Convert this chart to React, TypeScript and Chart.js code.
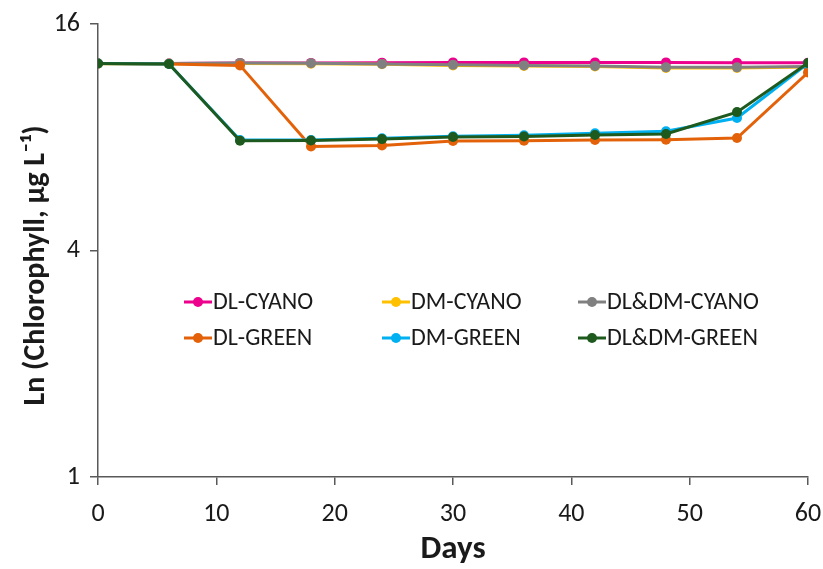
import React, { useEffect, useRef } from "react";
import { Chart, registerables } from "chart.js";

Chart.register(...registerables);

const days = [0, 6, 12, 18, 24, 30, 36, 42, 48, 54, 60];
const yTicks = [1, 4, 16];
const xTickStep = 10;

const dlCyano = [12.57, 12.57, 12.61, 12.61, 12.63, 12.65, 12.65, 12.65, 12.65, 12.63, 12.63];
const dmCyano = [12.55, 12.55, 12.57, 12.55, 12.5, 12.42, 12.38, 12.34, 12.23, 12.23, 12.3];
const dldmCyano = [12.57, 12.57, 12.61, 12.59, 12.53, 12.46, 12.42, 12.38, 12.27, 12.27, 12.34];
const dlGreen = [12.57, 12.53, 12.42, 7.56, 7.61, 7.82, 7.83, 7.87, 7.88, 7.96, 11.89];
const dmGreen = [12.57, 12.53, 7.87, 7.87, 7.95, 8.05, 8.1, 8.2, 8.3, 9.0, 12.57];
const dldmGreen = [12.57, 12.53, 7.83, 7.84, 7.91, 8.01, 8.04, 8.11, 8.16, 9.33, 12.6];

const seriesNames = ["DL-CYANO", "DM-CYANO", "DL&DM-CYANO", "DL-GREEN", "DM-GREEN", "DL&DM-GREEN"];
const seriesColors = ["#EC008C", "#FFC000", "#808080", "#E36209", "#00B0F0", "#1E5A1E"];
const seriesValues = [dlCyano, dmCyano, dldmCyano, dlGreen, dmGreen, dldmGreen];
const yTitle = "Ln (Chlorophyll, μg L⁻¹)";

const FONT = "Carlito, Lato, 'Open Sans', sans-serif";
const AXIS_COLOR = "#595959";
const TEXT_COLOR = "#1a1a1a";

const legendPlugin = {
  id: "gridLegend",
  afterDraw(chart: any) {
    const ctx = chart.ctx;
    const area = chart.chartArea;
    const colX = [184, 382, 578];
    const rowY = [302, 338];
    ctx.save();
    ctx.font = `24px ${FONT}`;
    ctx.textBaseline = "middle";
    ctx.textAlign = "left";
    seriesNames.forEach((name, i) => {
      const x = colX[i % 3];
      const y = rowY[Math.floor(i / 3)];
      ctx.strokeStyle = seriesColors[i];
      ctx.lineWidth = 3;
      ctx.beginPath();
      ctx.moveTo(x, y);
      ctx.lineTo(x + 28, y);
      ctx.stroke();
      ctx.fillStyle = seriesColors[i];
      ctx.beginPath();
      ctx.arc(x + 14, y, 5, 0, Math.PI * 2);
      ctx.fill();
      ctx.fillStyle = TEXT_COLOR;
      ctx.fillText(name, x + 29, y + 1);
    });
    // y-axis title, slightly below the plot-area centre as in the reference
    ctx.translate(36, (area.top + area.bottom) / 2 + 15);
    ctx.rotate(-Math.PI / 2);
    ctx.font = `bold 30px ${FONT}`;
    ctx.textAlign = "center";
    ctx.textBaseline = "middle";
    ctx.fillStyle = TEXT_COLOR;
    ctx.fillText(yTitle, 0, 0);
    ctx.restore();
  },
};

export default function App() {
  const ref = useRef<HTMLCanvasElement | null>(null);

  useEffect(() => {
    if (!ref.current) return;
    const order = [6, 5, 4, 3, 2, 1];
    const chart = new Chart(ref.current, {
      type: "line",
      data: {
        datasets: seriesNames.map((name, i) => ({
          label: name,
          data: days.map((d, j) => ({ x: d, y: seriesValues[i][j] })),
          borderColor: seriesColors[i],
          backgroundColor: seriesColors[i],
          borderWidth: 3,
          pointRadius: 5,
          pointHoverRadius: 5,
          pointBorderWidth: 0,
          tension: 0,
          order: order[i],
        })),
      },
      options: {
        animation: false,
        responsive: false,
        maintainAspectRatio: false,
        layout: { padding: { left: 0, right: 15, top: 24, bottom: 0 } },
        plugins: {
          legend: { display: false },
          tooltip: { enabled: false },
        },
        scales: {
          x: {
            type: "linear",
            min: 0,
            max: 60,
            ticks: {
              stepSize: xTickStep,
              color: TEXT_COLOR,
              font: { family: FONT, size: 26 },
              padding: 14,
              maxRotation: 0,
            },
            grid: {
              display: true,
              drawOnChartArea: false,
              drawTicks: true,
              tickLength: 8,
              color: AXIS_COLOR,
              lineWidth: 1.5,
            },
            border: { display: true, color: AXIS_COLOR, width: 1.5 },
            title: {
              display: true,
              text: "Days",
              color: TEXT_COLOR,
              font: { family: FONT, size: 33, weight: "bold" },
              padding: { top: 0, bottom: -1 },
            },
            afterFit(scale: any) {
              scale.height = 92;
              scale.paddingLeft = 0;
              scale.paddingRight = 0;
            },
          },
          y: {
            type: "logarithmic",
            min: 1,
            max: 16,
            afterBuildTicks(scale: any) {
              scale.ticks = yTicks.map((v) => ({ value: v }));
            },
            ticks: {
              color: TEXT_COLOR,
              font: { family: FONT, size: 26 },
              padding: 10,
              callback: (v: any) => String(v),
            },
            grid: {
              display: true,
              drawOnChartArea: false,
              drawTicks: true,
              tickLength: 8,
              color: AXIS_COLOR,
              lineWidth: 1.5,
            },
            border: { display: true, color: AXIS_COLOR, width: 1.5 },
            title: { display: false },
            afterFit(scale: any) {
              scale.width = 98;
              scale.paddingTop = 0;
              scale.paddingBottom = 0;
            },
          },
        },
      },
      plugins: [legendPlugin],
    });
    return () => chart.destroy();
  }, []);

  return (
    <div style={{ position: "absolute", left: 0, top: 0, width: 823, height: 569, background: "#fff" }}>
      <canvas ref={ref} width={823} height={569} />
    </div>
  );
}
